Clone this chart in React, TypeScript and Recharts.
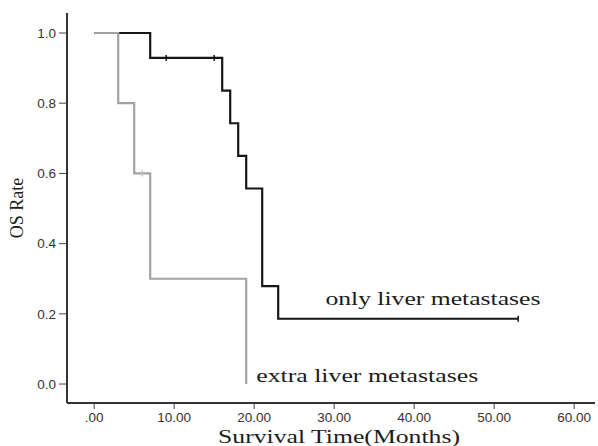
import React from "react";
import {
  ComposedChart, Line, Scatter, XAxis, YAxis, ReferenceDot,
} from "recharts";

// Kaplan-Meier steps
const onlyTime = [0, 7, 16, 17, 18, 19, 21, 23, 53];
const onlySurv = [1.0, 0.929, 0.836, 0.743, 0.65, 0.557, 0.279, 0.186, 0.186];
const extraTime = [0, 3, 5, 7, 19];
const extraSurv = [1.0, 0.8, 0.6, 0.3, 0.0];

// censored observations
const onlyCensorTime = [9, 15, 53];
const onlyCensorSurv = [0.929, 0.929, 0.186];
const extraCensorTime = [6];
const extraCensorSurv = [0.6];

const xTicks = [0, 10, 20, 30, 40, 50, 60];
const yTicks = [0, 0.2, 0.4, 0.6, 0.8, 1.0];

const onlyData = onlyTime.map((t, i) => ({ t, s: onlySurv[i] }));
const extraData = extraTime.map((t, i) => ({ t, s: extraSurv[i] }));
const onlyCensor = onlyCensorTime.map((t, i) => ({ t, s: onlyCensorSurv[i] }));
const extraCensor = extraCensorTime.map((t, i) => ({ t, s: extraCensorSurv[i] }));

const serif = "'Liberation Serif', 'Times New Roman', serif";
const sans = "'Liberation Sans', Arial, sans-serif";

const censorMark = (color: string) => (p: any) => (
  <line x1={p.cx} x2={p.cx} y1={p.cy - 3} y2={p.cy + 3} stroke={color} strokeWidth={1.5} />
);

const stretchedLabel = (text: string, length: number, size: number) => (p: any) => {
  const vb = p.viewBox || {};
  const x = (vb.x ?? 0) + (vb.width ?? 0) / 2;
  const y = (vb.y ?? 0) + (vb.height ?? 0) / 2;
  return (
    <text x={x} y={y} fontFamily={serif} fontSize={size} fill="#1c1c1c"
      textLength={length} lengthAdjust="spacingAndGlyphs">
      {text}
    </text>
  );
};

export default function App() {
  return (
    <div style={{ position: "absolute", left: 0, top: 0, background: "#fff" }}>
      <ComposedChart width={598} height={446} margin={{ top: 13, right: 3, left: 0, bottom: 0 }}>
        <XAxis
          type="number" dataKey="t" domain={[-3.4, 62.6]} ticks={xTicks}
          allowDataOverflow height={43}
          tickFormatter={(v: number) => (v === 0 ? ".00" : v.toFixed(2))}
          tick={{ fill: "#333", fontSize: 13.5, fontFamily: sans }}
          tickLine={{ stroke: "#444" }} tickSize={6} tickMargin={3}
          axisLine={{ stroke: "#333", strokeWidth: 2 }}
          label={{
            content: (p: any) => {
              const vb = p.viewBox;
              return (
                <text x={vb.x + vb.width / 2 - 113} y={443} fontFamily={serif} fontSize={19}
                  fill="#1c1c1c" textLength={242} lengthAdjust="spacingAndGlyphs">
                  Survival Time(Months)
                </text>
              );
            },
          }}
        />
        <XAxis xAxisId="top" orientation="top" type="number" domain={[-3.4, 62.6]}
          height={0} tick={false} tickLine={false} axisLine={{ stroke: "#555", strokeWidth: 2 }} />
        <YAxis
          type="number" dataKey="s" domain={[-0.054, 1.057]} ticks={yTicks}
          allowDataOverflow width={67}
          tickFormatter={(v: number) => v.toFixed(1)}
          tick={{ fill: "#333", fontSize: 13.5, fontFamily: sans }}
          tickLine={{ stroke: "#444" }} tickSize={8} tickMargin={3}
          axisLine={{ stroke: "#333", strokeWidth: 2 }}
          label={{
            content: (p: any) => {
              const vb = p.viewBox;
              const cy = vb.y + vb.height / 2;
              return (
                <text x={23} y={cy} transform={`rotate(-90, 23, ${cy})`} textAnchor="middle"
                  fontFamily={serif} fontSize={18} fill="#1c1c1c">
                  OS Rate
                </text>
              );
            },
          }}
        />
        <YAxis yAxisId="right" orientation="right" width={0} domain={[0, 1]}
          tick={false} tickLine={false} axisLine={{ stroke: "#e2e2e2", strokeWidth: 1 }} />

        <Line data={onlyData} dataKey="s" type="stepAfter" stroke="#161616" strokeWidth={2.2}
          dot={false} activeDot={false} isAnimationActive={false} />
        <Line data={extraData} dataKey="s" type="stepAfter" stroke="#a3a3a3" strokeWidth={2.2}
          dot={false} activeDot={false} isAnimationActive={false} />
        <Scatter data={onlyCensor} dataKey="s" shape={censorMark("#161616")} isAnimationActive={false} />
        <Scatter data={extraCensor} dataKey="s" shape={censorMark("#c4c4c4")} isAnimationActive={false} />

        <ReferenceDot x={28.9} y={0.225} r={0} fill="none" stroke="none"
          label={{ content: stretchedLabel("only liver metastases", 215, 19) }} />
        <ReferenceDot x={20.25} y={0.006} r={0} fill="none" stroke="none"
          label={{ content: stretchedLabel("extra liver metastases", 222, 19) }} />
      </ComposedChart>
    </div>
  );
}
